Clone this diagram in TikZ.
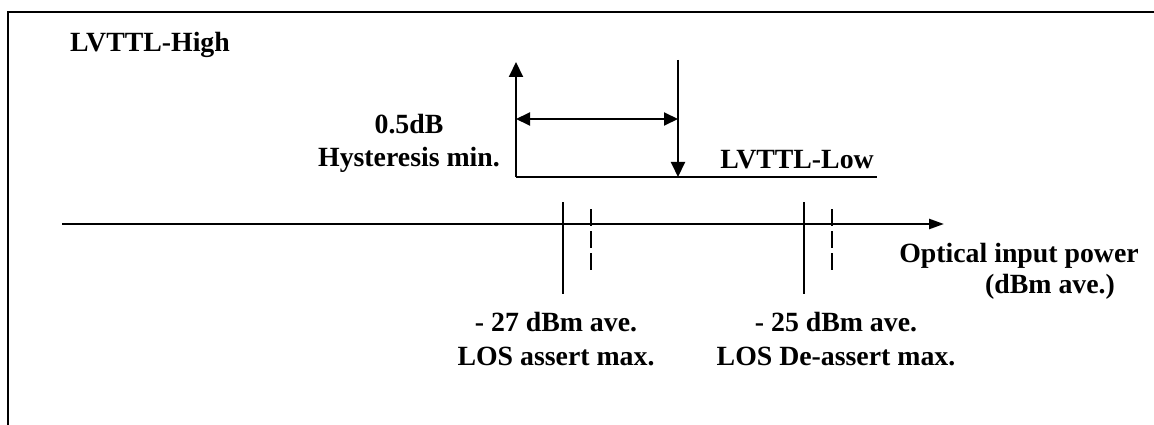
\documentclass[tikz,border=0pt]{standalone}
\usepackage{fontspec}
\setmainfont{Liberation Serif}
\usetikzlibrary{arrows.meta}

\begin{document}
\begin{tikzpicture}[x=1pt, y=-1pt, line width=2pt,
  every node/.style={font=\bfseries\fontsize{27.8}{33.5}\selectfont, inner sep=0pt},
  lbl/.style={align=center, anchor=base},
  tip/.style={-{Triangle[length=15pt,width=14pt]}},
  tick/.style={line width=1.5pt}]
  \useasboundingbox (0,0) rectangle (1154,425);
  \draw (1154,12) -- (8,12) -- (8,425);

  \node[lbl] (high) at (150,52) {LVTTL-High};
  \node[lbl] (low) at (797,168) {LVTTL-Low};
  \node[lbl] (hyst) at (409,167) {0.5dB\\Hysteresis min.};
  \node[lbl] (power) at (1019,262) {Optical input power};
  \node[lbl] (unit) at (1050,293) {(dBm ave.)};
  \node[lbl] (assert) at (556,365) {- 27 dBm ave.\\LOS assert max.};
  \node[lbl] (deassert) at (836,365) {- 25 dBm ave.\\LOS De-assert max.};

  \coordinate (rise0) at (516,177);
  \coordinate (rise1) at (516,62);
  \coordinate (fall0) at (678,60);
  \coordinate (fall1) at (678,177);
  \coordinate (lowend) at (877,177);
  \coordinate (gapL) at (516,119);
  \coordinate (gapR) at (678,119);
  \draw[tip] (rise0) -- (rise1);
  \draw[tip] (fall0) -- (fall1);
  \draw (rise0) -- (lowend);
  \draw[{Triangle[length=14pt,width=13pt]}-{Triangle[length=14pt,width=13pt]}] (gapL) -- (gapR);

  \coordinate (axis0) at (62,224);
  \coordinate (axis1) at (944,224);
  \draw[line width=2.5pt, -{Triangle[length=15pt,width=10pt]}] (axis0) -- (axis1);
  \foreach \x/\nm in {563/a, 804/d} {
    \draw[tick] (\x,202) coordinate (s\nm) -- (\x,294) coordinate (e\nm);
  }
  \foreach \x in {591, 832} {
    \draw[tick, dash pattern=on 16.5pt off 5.5pt] (\x,209) -- (\x,272);
  }
\end{tikzpicture}
\end{document}
